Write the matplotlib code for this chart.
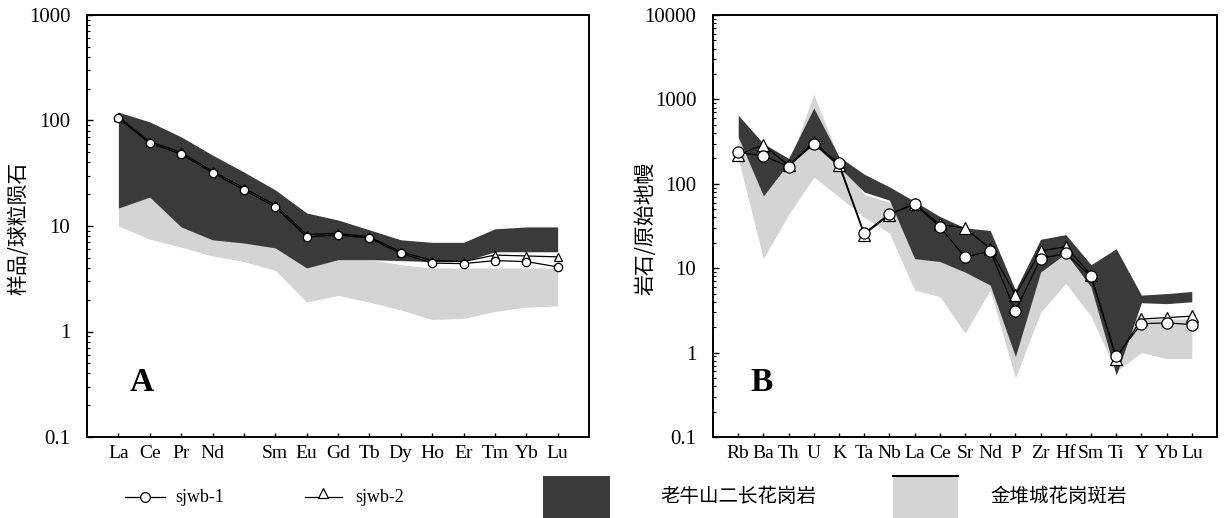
import matplotlib
matplotlib.use("Agg")
import matplotlib.pyplot as plt
from matplotlib.patches import Rectangle
from matplotlib.lines import Line2D
from matplotlib.ticker import FixedLocator, LogLocator, NullFormatter

plt.rcParams['font.family'] = ['Liberation Serif', 'Noto Sans CJK SC', 'DejaVu Sans']
CJK = ['Noto Sans CJK SC', 'DejaVu Sans']

# ---- panel A: chondrite-normalised REE ----
ree_labels = ['La', 'Ce', 'Pr', 'Nd', '', 'Sm', 'Eu', 'Gd', 'Tb', 'Dy', 'Ho', 'Er', 'Tm', 'Yb', 'Lu']
ree_sjwb1 = [105, 61, 48, 32, 22, 15.1, 7.9, 8.2, 7.7, 5.5, 4.45, 4.4, 4.7, 4.6, 4.1]
ree_sjwb2 = [108, 63, 50, 33, 23, 15.8, 8.3, 8.5, 7.9, 5.7, 4.7, 4.6, 5.3, 5.2, 5.1]
ree_lns_hi = [120, 97, 70, 47, 32.5, 22, 13.3, 11.4, 9.2, 7.4, 7.0, 7.0, 9.4, 9.8, 9.8]
ree_lns_lo = [14.8, 18.8, 9.8, 7.4, 6.9, 6.2, 4.0, 4.8, 4.8, 4.7, 4.6, 4.6, 5.7, 5.7, 5.7]
ree_jdc_hi = [15, 19, 10, 8, 7.5, 7, 4.5, 5, 4.8, 4.3, 4.0, 4.0, 4.0, 4.0, 4.0]
ree_jdc_lo = [10, 7.5, 6.3, 5.2, 4.6, 3.8, 1.9, 2.2, 1.9, 1.6, 1.3, 1.33, 1.55, 1.7, 1.75]

# ---- panel B: primitive-mantle-normalised trace elements ----
te_labels = ['Rb', 'Ba', 'Th', 'U', 'K', 'Ta', 'Nb', 'La', 'Ce', 'Sr', 'Nd', 'P',
             'Zr', 'Hf', 'Sm', 'Ti', 'Y', 'Yb', 'Lu']
te_sjwb1 = [235, 215, 160, 300, 176, 26, 44, 57, 31, 13.5, 16, 3.1, 13, 15, 8.0, 0.9, 2.2, 2.25, 2.15]
te_sjwb2 = [220, 290, 165, 310, 165, 25, 43, 58, 33, 30, 17, 4.8, 16, 18, 8.3, 0.85, 2.5, 2.6, 2.7]
te_lns_hi = [650, 300, 200, 790, 210, 130, 92, 62, 41, 30, 28, 5.5, 22, 25, 11, 17, 4.8, 5.0, 5.3]
te_lns_lo = [360, 72, 175, 290, 158, 80, 64, 13, 12, 9, 6.3, 0.9, 9, 15, 6, 0.54, 3.9, 3.8, 4.0]
te_jdc_hi = [360, 200, 170, 1150, 200, 75, 60, 40, 30, 20, 20, 5, 12, 20, 9, 6, 2.5, 2.5, 2.5]
te_jdc_lo = [200, 13, 43, 120, 70, 40, 26, 5.5, 4.6, 1.7, 5.5, 0.5, 3, 6.6, 2.7, 0.6, 1.0, 0.85, 0.85]

DARK = '#3a3a3a'
LIGHT = '#d4d4d4'

fig = plt.figure(figsize=(12.28, 5.18), dpi=100)
axA = fig.add_axes([87 / 1228, 1 - 437 / 518, 502 / 1228, 422 / 518])
axB = fig.add_axes([713 / 1228, 1 - 437 / 518, 504 / 1228, 422 / 518])


def draw_panel(ax, labels, s1, s2, lns_hi, lns_lo, jdc_hi, jdc_lo, ylim, yticks, msize):
    x = list(range(1, len(labels) + 1))
    ax.fill_between(x, jdc_lo, jdc_hi, color=LIGHT, lw=0, zorder=1)
    ax.fill_between(x, lns_lo, lns_hi, color=DARK, lw=0, zorder=2)
    ax.plot(x, s2, '-', color='black', lw=0.9, marker='^', ms=msize,
            mfc='white', mec='black', mew=0.9, zorder=4)
    ax.plot(x, s1, '-', color='black', lw=0.9, marker='o', ms=msize,
            mfc='white', mec='black', mew=0.9, zorder=5)
    ax.set_yscale('log')
    ax.set_xlim(0, len(labels) + 1)
    ax.set_ylim(*ylim)
    ax.set_xticks(x)
    ax.set_xticklabels(labels, fontsize=14)
    ax.yaxis.set_major_locator(FixedLocator(yticks))
    ax.set_yticklabels([('%g' % v) for v in yticks], fontsize=15)
    ax.yaxis.set_minor_locator(LogLocator(base=10, subs=range(2, 10)))
    ax.yaxis.set_minor_formatter(NullFormatter())
    ax.tick_params(axis='x', direction='in', length=3, width=1, pad=6)
    ax.tick_params(axis='y', which='major', direction='in', length=4, width=1, pad=12)
    ax.tick_params(axis='y', which='minor', direction='in', length=2.5, width=0.8)
    for sp in ax.spines.values():
        sp.set_linewidth(1.4)


draw_panel(axA, ree_labels, ree_sjwb1, ree_sjwb2, ree_lns_hi, ree_lns_lo,
           ree_jdc_hi, ree_jdc_lo, (0.1, 1000), [0.1, 1, 10, 100, 1000], 6)
draw_panel(axB, te_labels, te_sjwb1, te_sjwb2, te_lns_hi, te_lns_lo,
           te_jdc_hi, te_jdc_lo, (0.1, 10000), [0.1, 1, 10, 100, 1000, 10000], 8)

axA.text(0.085, 0.11, 'A', transform=axA.transAxes, fontsize=24, fontweight='bold')
axB.text(0.075, 0.11, 'B', transform=axB.transAxes, fontsize=24, fontweight='bold')

fig.text(18 / 1228, 1 - 228 / 518, '样品/球粒陨石', rotation=90, ha='center', va='center',
         fontsize=15, family=CJK)
fig.text(645 / 1228, 1 - 228 / 518, '岩石/原始地幔', rotation=90, ha='center', va='center',
         fontsize=15, family=CJK)

# ---- legend row ----
W, H = 1228, 518
yl = 1 - 497 / H
fig.add_artist(Line2D([125 / W, 165 / W], [yl, yl], color='black', lw=0.9))
fig.add_artist(Line2D([145 / W], [yl], marker='o', ms=7, mfc='white', mec='black', mew=0.9))
fig.text(175 / W, yl, 'sjwb-1', fontsize=13, va='center')
fig.add_artist(Line2D([305 / W, 342 / W], [yl, yl], color='black', lw=0.9))
fig.add_artist(Line2D([323 / W], [yl + 0.008], marker='^', ms=7, mfc='white', mec='black', mew=0.9))
fig.text(355 / W, yl, 'sjwb-2', fontsize=13, va='center')
fig.add_artist(Rectangle((543 / W, 0), 67 / W, 42 / H, color=DARK, lw=0))
fig.text(660 / W, yl, '老牛山二长花岗岩', fontsize=14, va='center', family=CJK)
fig.add_artist(Rectangle((893 / W, 0), 65 / W, 42 / H, facecolor=LIGHT, edgecolor='none'))
fig.add_artist(Line2D([893 / W, 958 / W], [42 / H, 42 / H], color='black', lw=1.5))
fig.text(990 / W, yl, '金堆城花岗斑岩', fontsize=14, va='center', family=CJK)

fig.savefig('out.png', dpi=100)
plt.close(fig)
